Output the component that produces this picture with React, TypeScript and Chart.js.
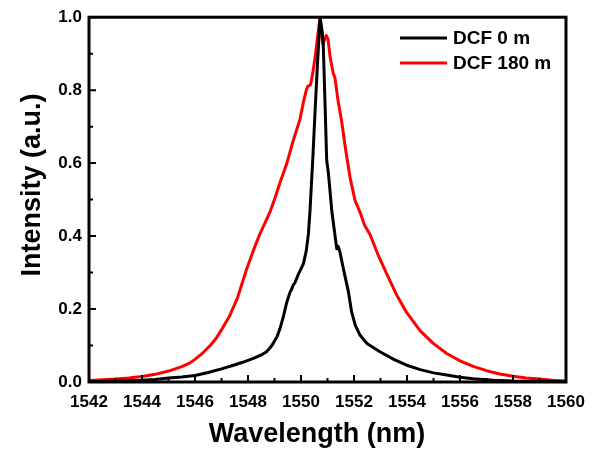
import { useEffect, useRef } from "react";
import { Chart, registerables } from "chart.js";

Chart.register(...registerables);

const FONT = "'Liberation Sans', Arial, Helvetica, sans-serif";

const xTickValues = [1542, 1544, 1546, 1548, 1550, 1552, 1554, 1556, 1558, 1560];
const xMinorTickValues = [1543, 1545, 1547, 1549, 1551, 1553, 1555, 1557, 1559];
const yTickValues = [0, 0.2, 0.4, 0.6, 0.8, 1.0];
const yMinorTickValues = [0.1, 0.3, 0.5, 0.7, 0.9];

const xTitle = "Wavelength (nm)";
const yTitle = "Intensity (a.u.)";
const seriesLabels = ["DCF 0 m", "DCF 180 m"];
const seriesColors = ["#000000", "#ff0000"];

const dcf0Wavelength = [
  1542, 1543, 1544, 1544.5, 1545, 1545.5, 1546, 1546.5, 1547, 1547.45,
  1547.8, 1548.2, 1548.5, 1548.7, 1548.85, 1548.95, 1549.1, 1549.2, 1549.33, 1549.45,
  1549.58, 1549.65, 1549.7, 1549.77, 1549.9, 1550.09, 1550.2, 1550.28, 1550.34, 1550.45,
  1550.53, 1550.62, 1550.72, 1550.8, 1550.84, 1550.9, 1550.97, 1551.03, 1551.1, 1551.16,
  1551.25, 1551.35, 1551.4, 1551.47, 1551.6, 1551.79, 1551.91, 1552.05, 1552.23, 1552.5,
  1552.98, 1553.5, 1553.99, 1554.5, 1555, 1555.5, 1556, 1556.5, 1557.26, 1558,
  1559, 1560,
];
const dcf0Intensity = [
  0.001, 0.003, 0.005, 0.007, 0.011, 0.014, 0.018, 0.026, 0.036, 0.046,
  0.054, 0.065, 0.074, 0.083, 0.095, 0.106, 0.125, 0.145, 0.178, 0.215,
  0.245, 0.255, 0.265, 0.272, 0.295, 0.324, 0.36, 0.406, 0.47, 0.62,
  0.74, 0.87, 1.0, 0.96, 0.925, 0.78, 0.607, 0.575, 0.52, 0.47,
  0.42, 0.365, 0.372, 0.356, 0.31, 0.247, 0.192, 0.155, 0.128, 0.105,
  0.083, 0.062, 0.046, 0.034, 0.025, 0.019, 0.013, 0.009, 0.005, 0.003,
  0.002, 0.001,
];

const dcf180Wavelength = [
  1542, 1542.5, 1543, 1543.5, 1544, 1544.5, 1545, 1545.5, 1545.8, 1546,
  1546.3, 1546.6, 1546.8, 1547, 1547.3, 1547.6, 1547.95, 1548.2, 1548.45, 1548.7,
  1548.85, 1549, 1549.2, 1549.46, 1549.7, 1549.96, 1550.1, 1550.2, 1550.25, 1550.36,
  1550.45, 1550.55, 1550.65, 1550.72, 1550.78, 1550.83, 1550.9, 1550.95, 1551.02, 1551.1,
  1551.22, 1551.28, 1551.4, 1551.53, 1551.7, 1551.85, 1552.04, 1552.23, 1552.4, 1552.6,
  1552.9, 1553.23, 1553.6, 1553.99, 1554.5, 1554.99, 1555.5, 1556, 1556.5, 1557,
  1557.5, 1558, 1558.5, 1559, 1559.5, 1560,
];
const dcf180Intensity = [
  0.004, 0.006, 0.008, 0.011, 0.015, 0.021, 0.03, 0.042, 0.052, 0.062,
  0.08, 0.102, 0.12, 0.143, 0.18, 0.23, 0.31, 0.36, 0.406, 0.445,
  0.47, 0.5, 0.545, 0.598, 0.66, 0.72, 0.77, 0.8, 0.81, 0.815,
  0.85, 0.9, 0.96, 1.0, 0.95, 0.925, 0.94, 0.95, 0.94, 0.89,
  0.845, 0.835, 0.77, 0.716, 0.63, 0.561, 0.497, 0.465, 0.43, 0.405,
  0.35, 0.297, 0.24, 0.19, 0.14, 0.106, 0.078, 0.058, 0.043, 0.031,
  0.022, 0.016, 0.011, 0.008, 0.005, 0.003,
];

function toPoints(xs: number[], ys: number[]) {
  return xs.map((x, i) => ({ x, y: ys[i] }));
}

const decorPlugin = {
  id: "decor",
  afterDatasetsDraw(chart: any) {
    const { ctx, chartArea, scales } = chart;
    const { left, right, top, bottom } = chartArea;
    const xs = scales.x;
    const ys = scales.y;
    ctx.save();
    ctx.strokeStyle = "#000";
    ctx.lineWidth = 2;
    ctx.beginPath();
    xTickValues.forEach((v) => {
      const px = xs.getPixelForValue(v);
      ctx.moveTo(px, bottom);
      ctx.lineTo(px, bottom - 7);
    });
    xMinorTickValues.forEach((v) => {
      const px = xs.getPixelForValue(v);
      ctx.moveTo(px, bottom);
      ctx.lineTo(px, bottom - 4);
    });
    yTickValues.forEach((v) => {
      const py = ys.getPixelForValue(v);
      ctx.moveTo(left, py);
      ctx.lineTo(left + 7, py);
    });
    yMinorTickValues.forEach((v) => {
      const py = ys.getPixelForValue(v);
      ctx.moveTo(left, py);
      ctx.lineTo(left + 4, py);
    });
    ctx.stroke();
    ctx.lineWidth = 3;
    ctx.strokeRect(left, top, right - left, bottom - top);

    // legend
    ctx.font = `bold 19px ${FONT}`;
    ctx.textBaseline = "middle";
    ctx.textAlign = "left";
    chart.data.datasets.forEach((ds: any, i: number) => {
      const ly = 38 + i * 25;
      ctx.strokeStyle = ds.borderColor;
      ctx.lineWidth = 3;
      ctx.beginPath();
      ctx.moveTo(400, ly);
      ctx.lineTo(447, ly);
      ctx.stroke();
      ctx.fillStyle = "#000";
      ctx.fillText(ds.label, 453, ly + 1);
    });

    // axis titles
    ctx.fillStyle = "#000";
    ctx.font = `bold 27px ${FONT}`;
    ctx.textAlign = "center";
    ctx.textBaseline = "alphabetic";
    ctx.fillText(xTitle, 317, 442);
    ctx.save();
    ctx.translate(40, 185);
    ctx.rotate(-Math.PI / 2);
    ctx.fillText(yTitle, 0, 0);
    ctx.restore();
    ctx.restore();
  },
};

export default function App() {
  const canvasRef = useRef<HTMLCanvasElement | null>(null);

  useEffect(() => {
    const canvas = canvasRef.current;
    if (!canvas) return;
    const chart = new Chart(canvas, {
      type: "line",
      data: {
        datasets: [
          {
            label: seriesLabels[0],
            data: toPoints(dcf0Wavelength, dcf0Intensity),
            borderColor: seriesColors[0],
            borderWidth: 3,
            pointRadius: 0,
            tension: 0,
            borderJoinStyle: "round",
          },
          {
            label: seriesLabels[1],
            data: toPoints(dcf180Wavelength, dcf180Intensity),
            borderColor: seriesColors[1],
            borderWidth: 3,
            pointRadius: 0,
            tension: 0,
            borderJoinStyle: "round",
          },
        ],
      },
      options: {
        animation: false,
        responsive: false,
        maintainAspectRatio: false,
        layout: { padding: { top: 16, right: 29, left: 0, bottom: 0 } },
        plugins: {
          legend: { display: false },
          tooltip: { enabled: false },
        },
        scales: {
          x: {
            type: "linear",
            min: 1542,
            max: 1560,
            afterBuildTicks: (s: any) => {
              s.ticks = xTickValues.map((v) => ({ value: v }));
            },
            afterFit: (s: any) => {
              s.height = 67;
            },
            grid: { display: false, drawTicks: false },
            border: { display: false },
            ticks: {
              padding: 10,
              color: "#000",
              font: { family: FONT, size: 17, weight: "bold" },
              callback: (v: any) => String(v),
              maxRotation: 0,
              autoSkip: false,
            },
          },
          y: {
            type: "linear",
            min: 0,
            max: 1,
            afterBuildTicks: (s: any) => {
              s.ticks = yTickValues.map((v) => ({ value: v }));
            },
            afterFit: (s: any) => {
              s.width = 89;
            },
            grid: { display: false, drawTicks: false },
            border: { display: false },
            ticks: {
              padding: 7,
              color: "#000",
              font: { family: FONT, size: 17, weight: "bold" },
              callback: (v: any) => Number(v).toFixed(1),
              autoSkip: false,
            },
          },
        },
      },
      plugins: [decorPlugin],
    });
    return () => chart.destroy();
  }, []);

  return (
    <div style={{ position: "absolute", left: 0, top: 0, width: 595, height: 449, background: "#fff" }}>
      <canvas ref={canvasRef} width={595} height={449} />
    </div>
  );
}
